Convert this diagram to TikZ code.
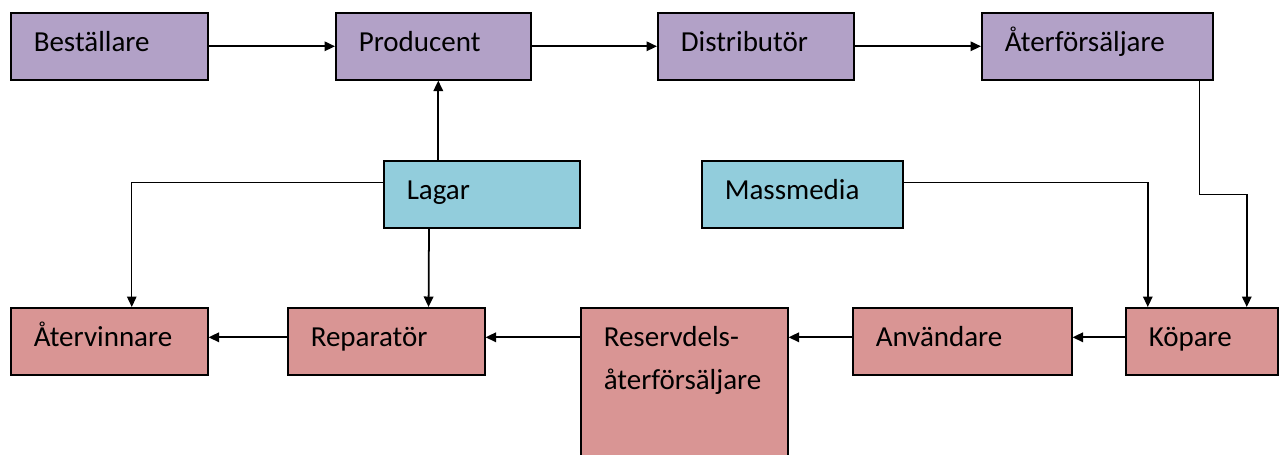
\documentclass[tikz,border=0pt]{standalone}
\usepackage{fontspec}
\setmainfont{Carlito}
\usepackage{tikz}
\usetikzlibrary{arrows.meta,calc}
\definecolor{cLila}{HTML}{B2A1C7}
\definecolor{cBla} {HTML}{92CDDC}
\definecolor{cRod} {HTML}{D99594}
\hyphenpenalty=10000
\tikzset{
  >={Triangle[length=2.1mm,width=1.9mm]},
  sbox/.style={draw,line width=0.9pt,anchor=north west,align=left,
               inner xsep=0.46cm,inner ysep=0pt,
               text height=0.78cm,text depth=0.56cm,
               font=\fontsize{16.5}{24.4}\selectfont},
  slila/.style={sbox,fill=cLila},
  sbla/.style ={sbox,fill=cBla},
  srod/.style ={sbox,fill=cRod},
  sar/.style  ={->,line width=1pt},
  star/.style ={->,line width=0.8pt},
}
\begin{document}
\begin{tikzpicture}[x=0.02cm,y=-0.02cm]
  \useasboundingbox (0,0) rectangle (1283,454);
  % top row
  \node[slila,text width=3.02cm] (bes) at (10,12)   {Beställare};
  \node[slila,text width=2.98cm] (pro) at (335,12)  {Producent};
  \node[slila,text width=3.0cm]  (dis) at (657,12)  {Distributör};
  \node[slila,text width=3.7cm]  (ate) at (981,12)  {Återförsäljare};
  % middle
  \node[sbla,text width=3.0cm]   (lag) at (383,160) {Lagar};
  \node[sbla,text width=3.1cm]   (mas) at (701,160) {Massmedia};
  % bottom row
  \node[srod,text width=3.02cm]  (atv) at (10,307)  {Återvinnare};
  \node[srod,text width=3.02cm]  (rep) at (287,307) {Reparatör};
  \node[srod,text width=3.22cm,text depth=2.28cm] (res) at (580,307)
    {Reservdels-\\återförsäljare};
  \node[srod,text width=3.46cm]  (anv) at (852,307) {Användare};
  \node[srod,text width=2.12cm]  (kop) at (1125,307) {Köpare};
  % connectors
  \draw[sar] (bes) -- (pro);
  \draw[sar] (pro) -- (dis);
  \draw[sar] (dis) -- (ate);
  \draw[sar] ([xshift=1mm]pro.south |- lag.north) -- ([xshift=1mm]pro.south);
  \draw[star] ([yshift=0.23cm]lag.west) -| ([xshift=0.45cm]atv.north);
  \draw[sar] ([xshift=0.92cm]lag.south west) -- ([xshift=-1.14cm]rep.north east);
  \draw[star] ([yshift=0.23cm]mas.east) -| ([xshift=-1.08cm]kop.north);
  \draw[sar] ([xshift=-0.28cm]ate.south east) -- ++(0,-2.28cm)
    -| ([xshift=0.9cm]kop.north);
  \draw[sar] ([yshift=0.08cm]kop.west) -- ([yshift=0.08cm]anv.east);
  \draw[sar] ([yshift=0.08cm]anv.west) -- ([yshift=0.08cm]anv.west -| res.east);
  \draw[sar] ([yshift=0.08cm]rep.east -| res.west) -- ([yshift=0.08cm]rep.east);
  \draw[sar] ([yshift=0.08cm]rep.west) -- ([yshift=0.08cm]atv.east);
\end{tikzpicture}
\end{document}
